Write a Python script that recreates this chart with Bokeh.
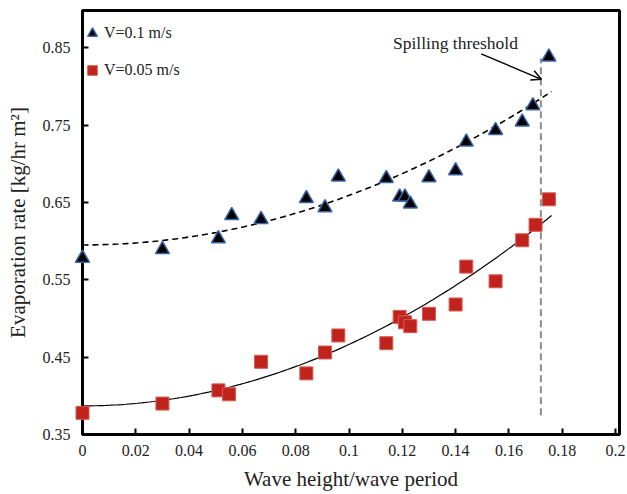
from bokeh.plotting import figure
from bokeh.models import Range1d, FixedTicker, Legend, LegendItem, Arrow, OpenHead, Label
from bokeh.embed import file_html
from bokeh.resources import INLINE
import numpy as np

# ---- data ----
x_fast = [0.0, 0.030, 0.051, 0.056, 0.067, 0.084, 0.091, 0.096, 0.114, 0.119,
          0.121, 0.123, 0.130, 0.140, 0.144, 0.155, 0.165, 0.169, 0.175]
rate_fast = [0.578, 0.589, 0.603, 0.633, 0.628, 0.655, 0.643, 0.683, 0.681, 0.657,
             0.657, 0.648, 0.682, 0.691, 0.728, 0.743, 0.754, 0.775, 0.838]

x_slow = [0.0, 0.030, 0.051, 0.055, 0.067, 0.084, 0.091, 0.096, 0.114, 0.119,
          0.121, 0.123, 0.130, 0.140, 0.144, 0.155, 0.165, 0.170, 0.175]
rate_slow = [0.378, 0.390, 0.407, 0.402, 0.444, 0.429, 0.456, 0.478, 0.468, 0.502,
             0.495, 0.490, 0.506, 0.518, 0.567, 0.548, 0.601, 0.621, 0.654]

# quadratic trend lines (c0, c1, c2) as shown on the chart
trend_fast = [0.595, 0.0, 6.4]
trend_slow = [0.387, 0.0, 7.94]
trend_x_end = 0.176

threshold_x = [0.172, 0.172]
threshold_y = [0.375, 0.836]

x_ticks = [0, 0.02, 0.04, 0.06, 0.08, 0.1, 0.12, 0.14, 0.16, 0.18, 0.2]
x_tick_labels = ["0", "0.02", "0.04", "0.06", "0.08", "0.1", "0.12", "0.14", "0.16", "0.18", "0.2"]
y_ticks = [0.35, 0.45, 0.55, 0.65, 0.75, 0.85]
y_tick_labels = ["0.35", "0.45", "0.55", "0.65", "0.75", "0.85"]

FONT = "Liberation Serif"

p = figure(width=627, height=494, output_backend="svg", toolbar_location=None,
           x_range=Range1d(0, 0.2015), y_range=Range1d(0.35, 0.898),
           min_border_left=82, min_border_right=8, min_border_top=10, min_border_bottom=60)

p.xgrid.visible = False
p.ygrid.visible = False
p.outline_line_color = "black"
p.outline_line_width = 3
p.background_fill_color = "white"
p.border_fill_color = "white"

for ax in (p.xaxis[0], p.yaxis[0]):
    ax.axis_line_width = 3
    ax.axis_line_color = "black"
    ax.major_tick_in = 6
    ax.major_tick_out = 0
    ax.major_tick_line_width = 2
    ax.minor_tick_line_color = None
    ax.major_label_text_font = FONT
    ax.major_label_text_font_size = "16px"
    ax.major_label_text_color = "#222222"
    ax.axis_label_text_font = FONT
    ax.axis_label_text_font_size = "21px"
    ax.axis_label_text_font_style = "normal"
    ax.axis_label_text_color = "#222222"

p.xaxis.ticker = FixedTicker(ticks=x_ticks)
p.xaxis.major_label_overrides = dict(zip(x_ticks, x_tick_labels))
p.yaxis.ticker = FixedTicker(ticks=y_ticks)
p.yaxis.major_label_overrides = dict(zip(y_ticks, y_tick_labels))
p.xaxis.axis_label = "Wave height/wave period"
p.yaxis.axis_label = "Evaporation rate [kg/hr m\u00b2]"
p.xaxis.major_label_standoff = 10
p.yaxis.major_label_standoff = 12
p.xaxis.axis_label_standoff = 8
p.yaxis.axis_label_standoff = 10

# trend lines
xt = np.linspace(0, trend_x_end, 120)
yf = trend_fast[0] + trend_fast[1] * xt + trend_fast[2] * xt ** 2
ys = trend_slow[0] + trend_slow[1] * xt + trend_slow[2] * xt ** 2
p.line(xt, yf, line_color="black", line_width=1.6, line_dash="6 4")
p.line(xt, ys, line_color="black", line_width=1.2)

# spilling threshold
p.line(threshold_x, threshold_y, line_color="#8c8c8c", line_width=2, line_dash="7 4")

r_fast = p.scatter(x_fast, rate_fast, marker="triangle", size=14,
                   fill_color="black", line_color="#3A64A8", line_width=1.5, level="overlay")
r_slow = p.scatter(x_slow, rate_slow, marker="square", size=13,
                   fill_color="#C0231C", line_color="#D85A52", line_width=1, level="overlay")

legend = Legend(items=[LegendItem(label="V=0.1 m/s", renderers=[r_fast]),
                       LegendItem(label="V=0.05 m/s", renderers=[r_slow])],
                location=(-2, 350), orientation="vertical",
                glyph_width=24, glyph_height=28, label_height=28, spacing=9,
                padding=0, margin=0, label_standoff=0,
                label_text_font=FONT, label_text_font_size="16px",
                label_text_color="#222222",
                border_line_color=None, background_fill_alpha=0)
p.add_layout(legend)

p.add_layout(Label(x=0.1165, y=0.856, text="Spilling threshold", text_font=FONT,
                   text_font_size="17.5px", text_color="#222222", text_baseline="middle"))
p.add_layout(Arrow(end=OpenHead(size=10, line_width=1.5, line_color="black"),
                   x_start=0.1496, y_start=0.842, x_end=0.1722, y_end=0.809,
                   line_width=1.5, line_color="black"))

open("out.html", "w").write(file_html(p, INLINE))
